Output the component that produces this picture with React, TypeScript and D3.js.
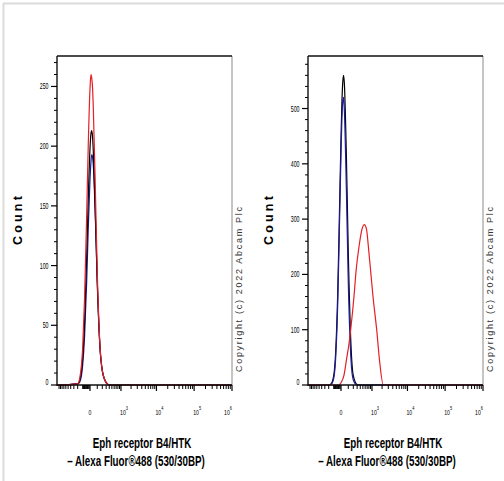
import React from 'react';
import * as d3 from 'd3';

const W = 504;
const H = 481;

// shared fluorescence bin values (linear units, shown on a biexponential axis)
const binValues = [-200, -150, -100, -70, -40, -20, 0, 10, 20, 30, 40, 70, 100, 150, 200, 300, 400];

// left panel counts
const leftBlack = [1, 5, 23, 53, 108, 156, 198, 210, 213, 208, 196, 141, 85, 32, 12, 2, 0];
const leftBlue = [1, 3, 17, 41, 87, 131, 172, 186, 193, 191, 184, 139, 87, 31, 12, 2, 0];
const leftRed = [1, 7, 32, 73, 143, 201, 248, 260, 257, 249, 232, 162, 94, 33, 12, 2, 0];

// right panel counts
const rightBlack = [0, 2, 17, 57, 164, 294, 446, 510, 547, 560, 547, 412, 241, 72, 17, 1, 0];
const rightBlue = [0, 1, 12, 46, 145, 271, 419, 480, 512, 520, 499, 351, 187, 46, 9, 0, 0];
const rightRedValues = [-32, 0, 36, 74, 113, 144, 216, 268, 357, 445, 561, 666, 776, 913, 1077, 1393, 1685, 2168];
const rightRed = [0, 4, 18, 48, 75, 100, 160, 205, 250, 278, 290, 282, 248, 205, 160, 100, 45, 0];

// axes
const xDomain = [-1155, 1e6];
const xMajorTicks = [0, 1e3, 1e4, 1e5, 1e6];
const xMajorExponents = ['', '3', '4', '5', '6'];
const leftYMax = 275.5;
const rightYMax = 595;
const leftYMajor = [0, 50, 100, 150, 200, 250];
const rightYMajor = [0, 100, 200, 300, 400, 500];
const leftYMinorStep = 10;
const rightYMinorStep = 20;

const axisTitle1 = 'Eph receptor B4/HTK';
const axisTitle2 = '\u2013 Alexa Fluor\u00AE488 (530/30BP)';
const yTitle = 'Count';
const copyright = 'Copyright (c) 2022 Abcam Plc';

const RED = '#e41f26';
const BLUE = '#1c1c9a';
const BLACK = '#000000';

function minorXTicks(): number[] {
  const t: number[] = [];
  for (let v = -1000; v <= -100; v += 100) t.push(v);
  for (let v = -90; v <= -10; v += 10) t.push(v);
  for (let v = 100; v <= 900; v += 100) t.push(v);
  for (const d of [1e3, 1e4, 1e5]) for (let k = 2; k <= 9; k++) t.push(k * d);
  return t;
}

type Series = { xs: number[]; ys: number[]; color: string };

function Panel({ x0, x1, yMax, yMajor, yMinorStep, series }: { x0: number; x1: number; yMax: number; yMajor: number[]; yMinorStep: number; series: Series[] }) {
  const y0 = 56;
  const y1 = 385;
  const x = d3.scaleSymlog().constant(180).domain(xDomain).range([x0, x1]);
  const y = d3.scaleLinear().domain([0, yMax]).range([y1, y0]);
  const yMinor = d3.range(0, yMax, yMinorStep).filter((v) => !yMajor.includes(v));
  const line = d3
    .line<[number, number]>()
    .x((d) => x(d[0]))
    .y((d) => y(d[1]))
    .curve(d3.curveMonotoneX);
  const cx = (x0 + x1) / 2;
  const labelFont = 'Liberation Sans, Arial, sans-serif';
  return (
    <g>
      {series.map((s, i) => {
        const pts: [number, number][] = [[xDomain[0], 0], ...s.xs.map((v, j) => [v, s.ys[j]] as [number, number]), [xDomain[1], 0]];
        return <path key={i} d={line(pts) || ''} fill="none" stroke={s.color} strokeWidth={1.2} />;
      })}
      {/* frame */}
      <line x1={x1} x2={x1} y1={y0} y2={y1} stroke="#8a8a8a" strokeWidth={1} />
      <line x1={x0} x2={x1} y1={y0} y2={y0} stroke="#111" strokeWidth={1.4} />
      <line x1={x0} x2={x0} y1={y0} y2={y1 + 1} stroke="#111" strokeWidth={1.4} />
      <line x1={x0} x2={x1} y1={y1} y2={y1} stroke="#111" strokeWidth={1.6} />
      {/* y ticks */}
      {yMajor.map((v) => (
        <g key={'ym' + v}>
          <line x1={x0 - 6} x2={x0} y1={y(v)} y2={y(v)} stroke="#000" strokeWidth={1.2} />
          <text transform={`translate(${x0 - 8.5},${y(v) + 3 - (v === 0 ? 3 : 0)}) scale(0.62,1)`} textAnchor="end" fontSize={8.5} fontFamily={labelFont}>
            {v}
          </text>
        </g>
      ))}
      {yMinor.map((v) => (
        <line key={'yn' + v} x1={x0 - 3} x2={x0} y1={y(v)} y2={y(v)} stroke="#000" strokeWidth={1} />
      ))}
      {/* x ticks */}
      {minorXTicks().map((v) => (
        <line key={'xn' + v} x1={x(v)} x2={x(v)} y1={y1} y2={y1 + 4} stroke="#000" strokeWidth={1} />
      ))}
      {xMajorTicks.map((v, i) => {
        const px = x(v);
        const last = i === xMajorTicks.length - 1;
        return (
          <g key={'xm' + v}>
            <line x1={px} x2={px} y1={y1} y2={y1 + 6} stroke="#000" strokeWidth={1.2} />
            {v === 0 ? (
              <text transform={`translate(${px},415) scale(0.65,1)`} textAnchor="middle" fontSize={8} fontFamily={labelFont}>
                0
              </text>
            ) : (
              <text transform={`translate(${last ? px : px + 3},415) scale(0.65,1)`} textAnchor={last ? 'end' : 'middle'} fontSize={8} fontFamily={labelFont}>
                10
                <tspan fontSize={6} dy={-5}>
                  {xMajorExponents[i]}
                </tspan>
              </text>
            )}
          </g>
        );
      })}
      {/* titles */}
      <text transform={`translate(${cx - 2.5},448) scale(0.7,1)`} textAnchor="middle" fontSize={14} fontWeight="bold" fontFamily={labelFont}>
        {axisTitle1}
      </text>
      <text transform={`translate(${cx - 8.5},466) scale(0.7,1)`} textAnchor="middle" fontSize={14} fontWeight="bold" fontFamily={labelFont}>
        {axisTitle2}
      </text>
      <text transform={`translate(${x0 - 35.5},219) rotate(-90)`} textAnchor="middle" fontSize={12.5} fontWeight="bold" fontFamily={labelFont} letterSpacing={3.2}>
        {yTitle}
      </text>
      <text transform={`translate(${x1 + 9.5},372) rotate(-90)`} textAnchor="start" fontSize={9} fill="#333" fontFamily={labelFont} letterSpacing={1.7}>
        {copyright}
      </text>
    </g>
  );
}

export default function App() {
  return (
    <svg width={W} height={H} style={{ position: 'absolute', left: 0, top: 0, background: '#fff' }}>
      <rect x={0} y={0} width={W} height={H} fill="#fff" />
      <line x1={3.5} x2={3.5} y1={3} y2={H} stroke="#dcdcdc" strokeWidth={2} />
      <line x1={3} x2={W} y1={3.5} y2={3.5} stroke="#dcdcdc" strokeWidth={2} />
      <Panel
        x0={57}
        x1={232}
        yMax={leftYMax}
        yMajor={leftYMajor}
        yMinorStep={leftYMinorStep}
        series={[
          { xs: binValues, ys: leftBlue, color: BLUE },
          { xs: binValues, ys: leftBlack, color: BLACK },
          { xs: binValues, ys: leftRed, color: RED },
        ]}
      />
      <Panel
        x0={308}
        x1={483}
        yMax={rightYMax}
        yMajor={rightYMajor}
        yMinorStep={rightYMinorStep}
        series={[
          { xs: binValues, ys: rightBlack, color: BLACK },
          { xs: binValues, ys: rightBlue, color: BLUE },
          { xs: rightRedValues, ys: rightRed, color: RED },
        ]}
      />
    </svg>
  );
}
